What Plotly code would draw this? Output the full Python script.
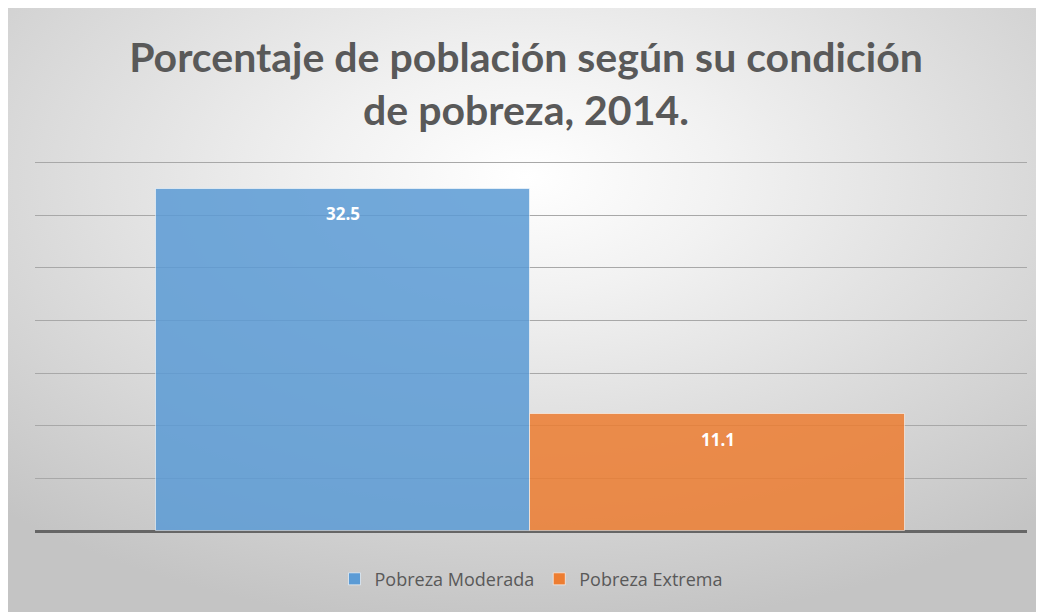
import base64
import plotly.graph_objects as go

categorias = ["Pobreza Moderada", "Pobreza Extrema"]
valores = [32.5, 11.1]
colores = ["#5b9bd5", "#ed7d31"]
titulo = "Porcentaje de población según su condición<br>de pobreza, 2014."

W, H = 1036, 604
ml, mr, mt, mb = 27, 17, 144, 81
pw, ph = W - ml - mr, H - mt - mb

# radial gradient background as an svg image
svg = """<svg xmlns='http://www.w3.org/2000/svg' width='1036' height='604' preserveAspectRatio='none'>
<defs><radialGradient id='g' cx='50%' cy='28%' r='75%'>
<stop offset='0%' stop-color='#ffffff'/><stop offset='25%' stop-color='#f2f2f2'/>
<stop offset='100%' stop-color='#c4c4c4'/>
</radialGradient></defs>
<rect width='1036' height='604' fill='url(#g)'/></svg>"""
src = "data:image/svg+xml;base64," + base64.b64encode(svg.encode()).decode()

fig = go.Figure()
for cat, val, col in zip(categorias, valores, colores):
    fig.add_trace(go.Bar(
        x=[cat], y=[val], name=cat,
        marker=dict(color=col, opacity=0.85, line=dict(color="rgba(255,255,255,0.6)", width=1)),
        width=1,
    ))
    fig.add_annotation(
        x=cat, y=val, text="<b>%s</b>" % val, showarrow=False,
        yshift=-25, font=dict(family="Open Sans", size=17, color="white"),
    )

fig.add_layout_image(
    source=src, xref="paper", yref="paper",
    x=-ml / pw, y=(H - mb) / ph,
    sizex=W / pw, sizey=H / ph,
    sizing="stretch", layer="below",
)

fig.update_layout(
    width=W, height=H,
    margin=dict(l=ml, r=mr, t=mt, b=mb),
    paper_bgcolor="white", plot_bgcolor="rgba(0,0,0,0)",
    barmode="overlay", bargap=0,
    title=dict(text="<b>%s</b>" % titulo, x=0.5, xanchor="center", y=0.894, yanchor="middle",
               font=dict(family="Lato", size=41, color="#595959")),
    showlegend=True,
    legend=dict(orientation="h", x=0.5, xanchor="center", y=-0.127, yanchor="middle",
                bgcolor="rgba(0,0,0,0)",
                font=dict(family="Open Sans", size=18, color="#595959")),
    xaxis=dict(range=[-0.823, 1.826], showticklabels=False, showgrid=False, zeroline=False),
    yaxis=dict(range=[0, 36], dtick=5, showticklabels=False, gridcolor="#a8a8a8",
               gridwidth=1, zeroline=True, zerolinecolor="#666666", zerolinewidth=3),
)

fig.write_html("out.html")
